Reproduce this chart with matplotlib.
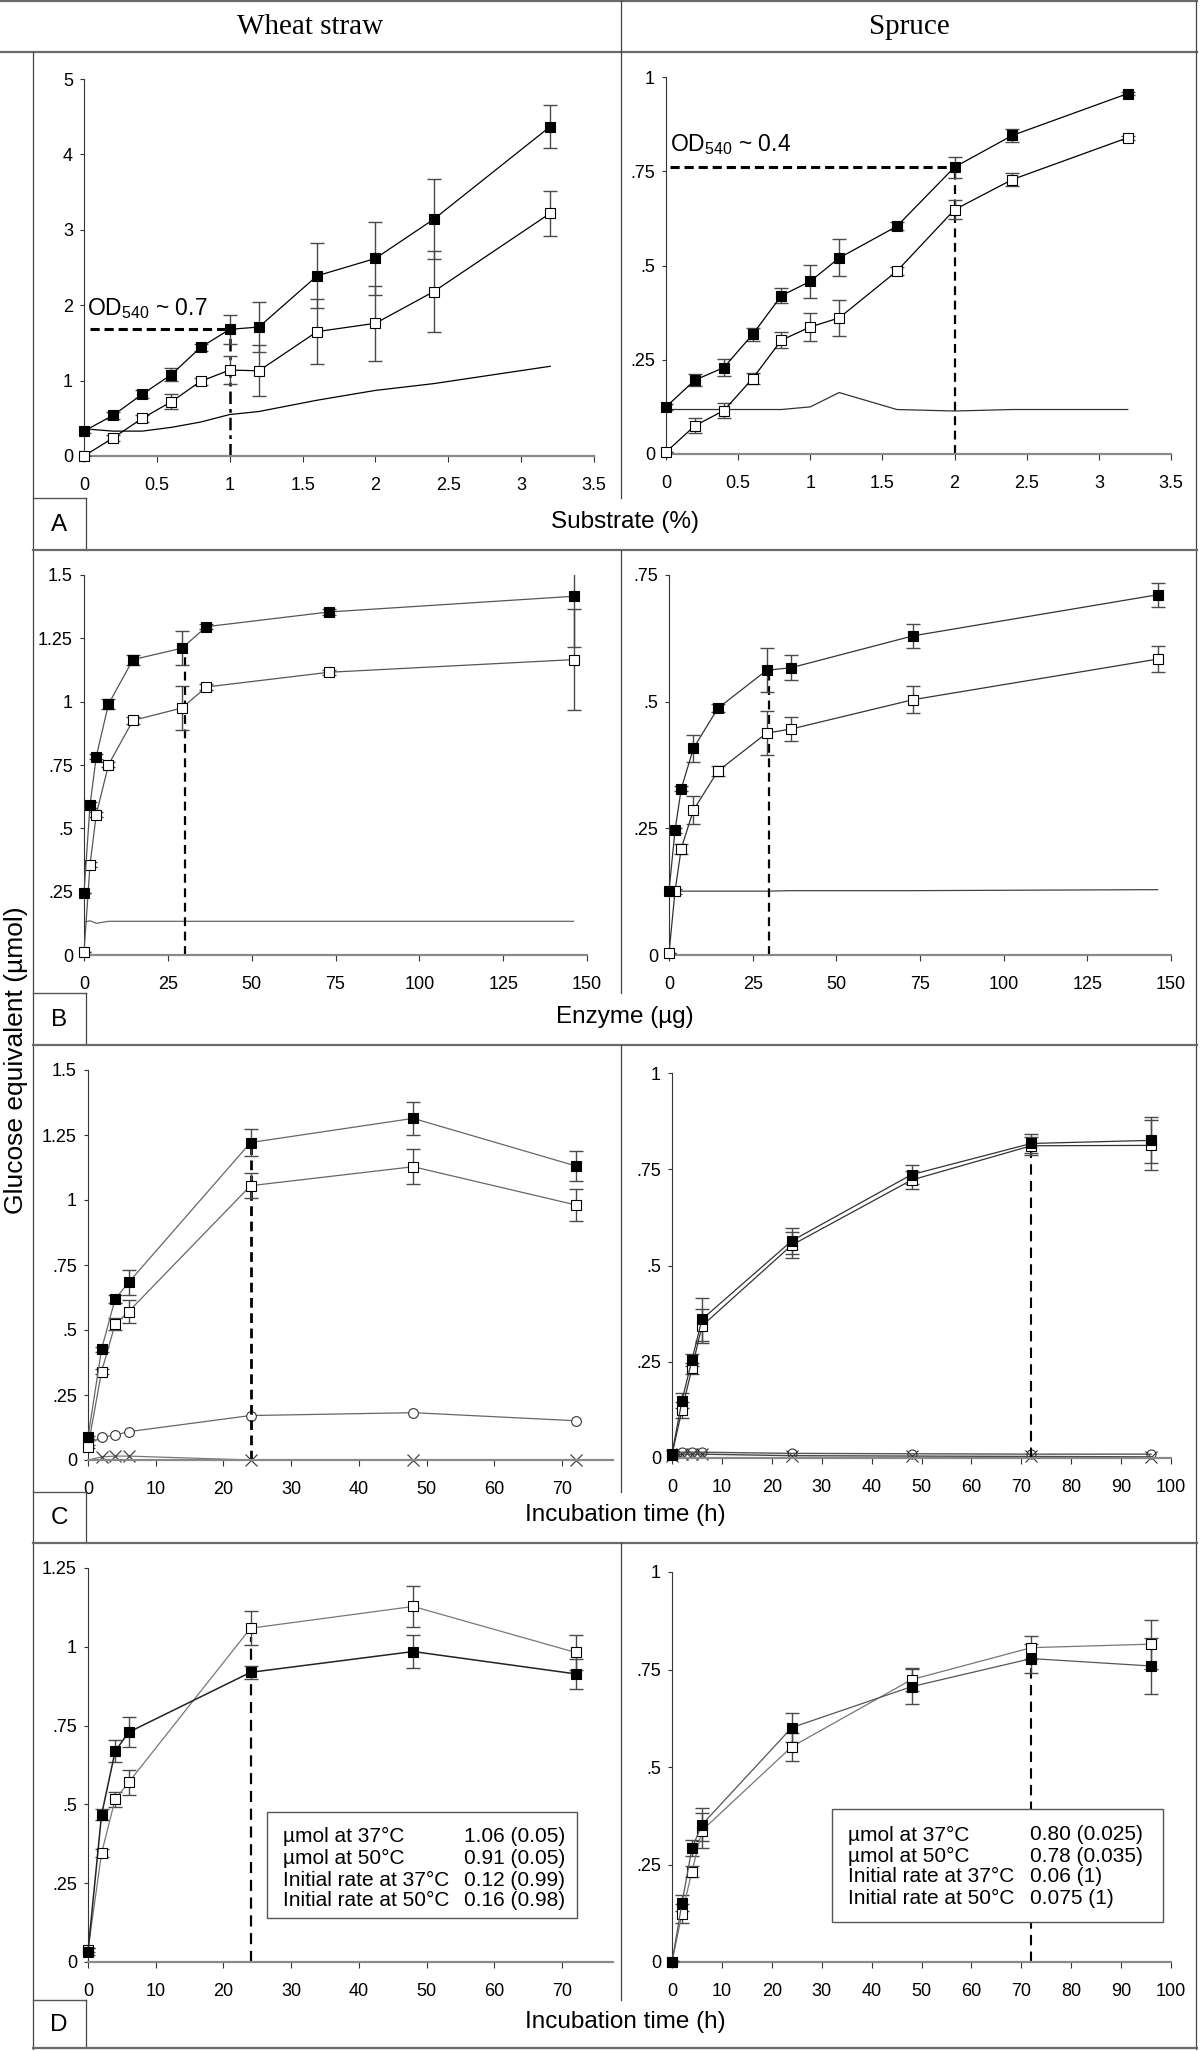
import matplotlib
matplotlib.use("Agg")
import matplotlib.pyplot as plt
from matplotlib.lines import Line2D
from matplotlib.patches import Rectangle

plt.rcParams['font.family'] = ['Liberation Sans', 'DejaVu Sans']
plt.rcParams['mathtext.fontset'] = 'custom'
plt.rcParams['mathtext.rm'] = 'Liberation Sans'
plt.rcParams['mathtext.it'] = 'Liberation Sans:italic'

TABLE_SIZE = 15

# ---------------- data ----------------
# Row A: substrate (%)
A_x = [0, 0.2, 0.4, 0.6, 0.8, 1.0, 1.2, 1.6, 2.0, 2.4, 3.2]
A_wheat_filled = [0.33, 0.54, 0.82, 1.08, 1.44, 1.68, 1.71, 2.39, 2.62, 3.14, 4.37]
A_wheat_filled_err = [0.03, 0.05, 0.05, 0.09, 0.05, 0.19, 0.33, 0.43, 0.49, 0.53, 0.29]
A_wheat_open = [0.0, 0.24, 0.50, 0.72, 0.99, 1.14, 1.13, 1.65, 1.76, 2.18, 3.22]
A_wheat_open_err = [0.0, 0.04, 0.05, 0.10, 0.05, 0.18, 0.34, 0.43, 0.50, 0.54, 0.30]
A_wheat_ctrl = [0.36, 0.33, 0.33, 0.38, 0.45, 0.55, 0.59, 0.74, 0.87, 0.96, 1.19]
A_spruce_filled = [0.125, 0.196, 0.229, 0.317, 0.42, 0.458, 0.52, 0.604, 0.761, 0.845, 0.956]
A_spruce_filled_err = [0.008, 0.015, 0.022, 0.018, 0.02, 0.044, 0.049, 0.011, 0.028, 0.018, 0.005]
A_spruce_open = [0.005, 0.075, 0.115, 0.2, 0.302, 0.337, 0.361, 0.485, 0.648, 0.728, 0.839]
A_spruce_open_err = [0.0, 0.02, 0.02, 0.015, 0.022, 0.038, 0.048, 0.011, 0.025, 0.018, 0.005]
A_spruce_ctrl = [0.118, 0.118, 0.118, 0.118, 0.118, 0.125, 0.163, 0.118, 0.114, 0.118, 0.118]
A_wheat_guide = (1.0, 1.68)
A_spruce_guide = (2.0, 0.76)

# Row B: enzyme (ug)
B_x = [0, 1.8, 3.65, 7.3, 14.6, 29.2, 36.5, 73, 146]
B_wheat_filled = [0.245, 0.592, 0.783, 0.99, 1.166, 1.211, 1.296, 1.354, 1.416]
B_wheat_filled_err = [0.0, 0.01, 0.01, 0.02, 0.02, 0.066, 0.01, 0.01, 0.2]
B_wheat_open = [0.01, 0.357, 0.554, 0.751, 0.926, 0.975, 1.058, 1.116, 1.166]
B_wheat_open_err = [0.0, 0.01, 0.01, 0.01, 0.015, 0.085, 0.01, 0.01, 0.2]
B_wheat_ctrl = [0.13, 0.135, 0.125, 0.133, 0.133, 0.133, 0.133, 0.133, 0.133]
B_spruce_filled = [0.126, 0.246, 0.328, 0.408, 0.487, 0.562, 0.567, 0.63, 0.711]
B_spruce_filled_err = [0.0, 0.005, 0.005, 0.027, 0.008, 0.043, 0.025, 0.024, 0.024]
B_spruce_open = [0.003, 0.126, 0.21, 0.286, 0.363, 0.438, 0.446, 0.504, 0.584]
B_spruce_open_err = [0.0, 0.005, 0.01, 0.027, 0.01, 0.044, 0.024, 0.026, 0.025]
B_spruce_ctrl = [0.126, 0.126, 0.126, 0.126, 0.126, 0.126, 0.127, 0.127, 0.129]
B_wheat_guide = (30, 1.211)
B_spruce_guide = (30, 0.562)

# Row C: incubation time (h)
C_wheat_x = [0, 2, 4, 6, 24, 48, 72]
C_wheat_filled = [0.087, 0.426, 0.619, 0.683, 1.221, 1.314, 1.131]
C_wheat_filled_err = [0.005, 0.01, 0.015, 0.047, 0.051, 0.064, 0.059]
C_wheat_open = [0.051, 0.34, 0.522, 0.571, 1.055, 1.128, 0.981]
C_wheat_open_err = [0.005, 0.01, 0.023, 0.045, 0.047, 0.067, 0.063]
C_wheat_circle = [0.06, 0.087, 0.096, 0.109, 0.171, 0.182, 0.151]
C_wheat_cross = [0.0, 0.012, 0.015, 0.015, 0.0, 0.0, 0.0]
C_spruce_x = [0, 2, 4, 6, 24, 48, 72, 96]
C_spruce_filled = [0.011, 0.149, 0.255, 0.36, 0.564, 0.736, 0.817, 0.825]
C_spruce_filled_err = [0.005, 0.02, 0.015, 0.055, 0.034, 0.024, 0.024, 0.06]
C_spruce_open = [0.009, 0.125, 0.233, 0.343, 0.553, 0.722, 0.811, 0.812]
C_spruce_open_err = [0.005, 0.02, 0.015, 0.045, 0.034, 0.024, 0.024, 0.065]
C_spruce_circle = [0.01, 0.015, 0.015, 0.015, 0.012, 0.011, 0.01, 0.01]
C_spruce_cross = [0.005, 0.01, 0.01, 0.01, 0.006, 0.005, 0.004, 0.003]
C_wheat_guide = (24, 1.221)
C_spruce_guide = (72, 0.811)

# Row D: incubation time (h), 37 vs 50 C
D_wheat_x = [0, 2, 4, 6, 24, 48, 72]
D_wheat_filled = [0.033, 0.467, 0.668, 0.729, 0.919, 0.985, 0.914]
D_wheat_filled_err = [0.01, 0.018, 0.035, 0.047, 0.021, 0.053, 0.048]
D_wheat_open = [0.038, 0.345, 0.516, 0.57, 1.059, 1.128, 0.982]
D_wheat_open_err = [0.005, 0.013, 0.024, 0.039, 0.053, 0.066, 0.056]
D_spruce_x = [0, 2, 4, 6, 24, 48, 72, 96]
D_spruce_filled = [0.0, 0.151, 0.292, 0.352, 0.601, 0.706, 0.778, 0.759]
D_spruce_filled_err = [0.003, 0.02, 0.021, 0.043, 0.038, 0.045, 0.037, 0.073]
D_spruce_open = [0.0, 0.124, 0.232, 0.337, 0.552, 0.724, 0.806, 0.815]
D_spruce_open_err = [0.003, 0.025, 0.015, 0.045, 0.036, 0.03, 0.029, 0.063]
D_wheat_guide = (24, 1.03)
D_spruce_guide = (72, 0.78)

D_table_labels = ["µmol at 37°C", "µmol at 50°C", "Initial rate at 37°C", "Initial rate at 50°C"]
D_wheat_table = ["1.06 (0.05)", "0.91 (0.05)", "0.12 (0.99)", "0.16 (0.98)"]
D_spruce_table = ["0.80 (0.025)", "0.78 (0.035)", "0.06 (1)", "0.075 (1)"]

col_titles = ["Wheat straw", "Spruce"]
row_letters = ["A", "B", "C", "D"]
row_xlabels = ["Substrate (%)", "Enzyme (µg)", "Incubation time (h)", "Incubation time (h)"]
ylabel = "Glucose equivalent (µmol)"

A_xticks = [0, 0.5, 1, 1.5, 2, 2.5, 3, 3.5]
A_xticklabels = ["0", "0.5", "1", "1.5", "2", "2.5", "3", "3.5"]
B_xticks = [0, 25, 50, 75, 100, 125, 150]
time_left_ticks = [0, 10, 20, 30, 40, 50, 60, 70]
time_right_ticks = [0, 10, 20, 30, 40, 50, 60, 70, 80, 90, 100]

# ---------------- figure ----------------
W, H = 1200, 2051
fig = plt.figure(figsize=(W / 100, H / 100), dpi=100)


def fx(px):
    return px / W


def fy(py):
    return 1 - py / H


def make_ax(x0, y_top, x1, y_bot):
    return fig.add_axes([fx(x0), fy(y_bot), (x1 - x0) / W, (y_bot - y_top) / H])


def style(ax, xlim, xticks, xlabels, ylim, yticks, ylabels):
    ax.set_xlim(*xlim)
    ax.set_ylim(*ylim)
    ax.set_xticks(xticks)
    ax.set_xticklabels(xlabels)
    ax.set_yticks(yticks)
    ax.set_yticklabels(ylabels)
    for s in ("top", "right"):
        ax.spines[s].set_visible(False)
    ax.spines["left"].set_color("#333333")
    ax.spines["left"].set_linewidth(0.8)
    ax.spines["bottom"].set_color("#8a8a8a")
    ax.spines["bottom"].set_linewidth(1.6)
    ax.tick_params(axis="y", direction="out", length=3, width=0.8, color="#333333",
                   labelsize=13, pad=5)
    ax.tick_params(axis="x", direction="out", length=4, width=0.8, color="#333333",
                   labelsize=13, pad=11)
    ax.patch.set_alpha(0)


def series(ax, x, y, err, filled, lc="black", lw=0.9):
    ax.errorbar(x, y, yerr=err, fmt="none", ecolor="#4a4a4a", elinewidth=1.0,
                capsize=5, capthick=1.0, zorder=3)
    ax.plot(x, y, "-", color=lc, lw=lw, marker="s", ms=6.5,
            mfc="black" if filled else "white", mec="black", mew=0.8,
            zorder=4, clip_on=False)


def vguide(ax, g, lw=1.6, dashes=(4, 2.5)):
    ax.plot([g[0], g[0]], [0, g[1]], color="black", lw=lw, dashes=dashes, zorder=2)


def hguide(ax, g, x0):
    ax.plot([x0, g[0]], [g[1], g[1]], color="black", lw=2.2, dashes=(3, 1.6), zorder=2)


yl5 = ([0, 1, 2, 3, 4, 5], ["0", "1", "2", "3", "4", "5"])
yl1 = ([0, .25, .5, .75, 1], ["0", ".25", ".5", ".75", "1"])
yl15 = ([0, .25, .5, .75, 1, 1.25, 1.5], ["0", ".25", ".5", ".75", "1", "1.25", "1.5"])
yl075 = ([0, .25, .5, .75], ["0", ".25", ".5", ".75"])
yl125 = ([0, .25, .5, .75, 1, 1.25], ["0", ".25", ".5", ".75", "1", "1.25"])

# ---- Row A ----
ax = make_ax(84, 79, 594, 456)
style(ax, (0, 3.5), A_xticks, A_xticklabels, (0, 5), *yl5)
ax.plot(A_x, A_wheat_ctrl, color="black", lw=0.9, zorder=2)
series(ax, A_x, A_wheat_open, A_wheat_open_err, False)
series(ax, A_x, A_wheat_filled, A_wheat_filled_err, True)
hguide(ax, A_wheat_guide, 0.04)
vguide(ax, A_wheat_guide, lw=1.8, dashes=(5, 2, 1.5, 2))
ax.text(0.02, 1.95, r"OD$_{\mathrm{540}}$ ~ 0.7", fontsize=16.5, va="center", ha="left")

ax = make_ax(666, 77, 1171, 454)
style(ax, (0, 3.5), A_xticks, A_xticklabels, (0, 1), *yl1)
ax.plot(A_x, A_spruce_ctrl, color="#333333", lw=0.9, zorder=2)
series(ax, A_x, A_spruce_open, A_spruce_open_err, False)
series(ax, A_x, A_spruce_filled, A_spruce_filled_err, True)
hguide(ax, A_spruce_guide, 0.03)
vguide(ax, A_spruce_guide)
ax.text(0.03, 0.82, r"OD$_{\mathrm{540}}$ ~ 0.4", fontsize=16.5, va="center", ha="left")

# ---- Row B ----
ax = make_ax(84, 575, 587, 955)
style(ax, (0, 150), B_xticks, [str(v) for v in B_xticks], (0, 1.5), *yl15)
ax.plot(B_x, B_wheat_ctrl, color="#666666", lw=0.9, zorder=2)
series(ax, B_x, B_wheat_open, B_wheat_open_err, False, lc="#555555")
series(ax, B_x, B_wheat_filled, B_wheat_filled_err, True, lc="#555555")
vguide(ax, B_wheat_guide)

ax = make_ax(669, 575, 1171, 955)
style(ax, (0, 150), B_xticks, [str(v) for v in B_xticks], (0, 0.75), *yl075)
ax.plot(B_x, B_spruce_ctrl, color="#444444", lw=0.9, zorder=2)
series(ax, B_x, B_spruce_open, B_spruce_open_err, False, lc="#333333")
series(ax, B_x, B_spruce_filled, B_spruce_filled_err, True, lc="#333333")
vguide(ax, B_spruce_guide)

# ---- Row C ----
ax = make_ax(88, 1070, 613, 1460)
style(ax, (0, 77.5), time_left_ticks, [str(v) for v in time_left_ticks], (0, 1.5), *yl15)
ax.plot(C_wheat_x, C_wheat_cross, color="#777777", lw=0.9, marker="x", ms=8, mec="#444444",
        mew=0.9, markevery=list(range(1, len(C_wheat_x))), zorder=2, clip_on=False)
ax.plot(C_wheat_x, C_wheat_circle, color="#666666", lw=0.9, marker="o", ms=7, mfc="white",
        mec="#333333", mew=0.8, zorder=2)
series(ax, C_wheat_x, C_wheat_open, C_wheat_open_err, False, lc="#666666")
series(ax, C_wheat_x, C_wheat_filled, C_wheat_filled_err, True, lc="#666666")
vguide(ax, C_wheat_guide, lw=2.0, dashes=(3.5, 2))

ax = make_ax(672, 1073, 1171, 1458)
style(ax, (0, 100), time_right_ticks, [str(v) for v in time_right_ticks], (0, 1), *yl1)
ax.plot(C_spruce_x, C_spruce_cross, color="#444444", lw=1.0, marker="x", ms=8, mec="#333333",
        mew=0.8, zorder=2, clip_on=False)
ax.plot(C_spruce_x, C_spruce_circle, color="#555555", lw=1.0, marker="o", ms=6.5, mfc="none",
        mec="#333333", mew=0.8, zorder=2, clip_on=False)
series(ax, C_spruce_x, C_spruce_open, C_spruce_open_err, False, lc="#333333")
series(ax, C_spruce_x, C_spruce_filled, C_spruce_filled_err, True, lc="#333333")
vguide(ax, C_spruce_guide, lw=1.5, dashes=(5, 3))

# ---- Row D ----
ax = make_ax(88, 1568, 613, 1962)
style(ax, (0, 77.5), time_left_ticks, [str(v) for v in time_left_ticks], (0, 1.25), *yl125)
series(ax, D_wheat_x, D_wheat_open, D_wheat_open_err, False, lc="#777777")
series(ax, D_wheat_x, D_wheat_filled, D_wheat_filled_err, True, lc="#222222", lw=1.1)
vguide(ax, D_wheat_guide, lw=1.6, dashes=(5, 3))

ax = make_ax(672, 1572, 1171, 1962)
style(ax, (0, 100), time_right_ticks, [str(v) for v in time_right_ticks], (0, 1), *yl1)
series(ax, D_spruce_x, D_spruce_open, D_spruce_open_err, False, lc="#777777")
series(ax, D_spruce_x, D_spruce_filled, D_spruce_filled_err, True, lc="#555555")
vguide(ax, D_spruce_guide, lw=1.5, dashes=(5, 3))


# ---- tables inside row D ----
def table_box(x0, y0, x1, y1, c1, c2, rows_y, labels, values):
    fig.add_artist(Rectangle((fx(x0), fy(y1)), (x1 - x0) / W, (y1 - y0) / H,
                             transform=fig.transFigure, facecolor="white",
                             edgecolor="#555555", lw=1.0, zorder=10))
    for yy, lab, val in zip(rows_y, labels, values):
        fig.text(fx(c1), fy(yy), lab, fontsize=TABLE_SIZE,
                 va="center", ha="left", zorder=11)
        fig.text(fx(c2), fy(yy), val, fontsize=TABLE_SIZE,
                 va="center", ha="left", zorder=11)


table_box(267, 1812, 577, 1918, 283, 464, [1836, 1858, 1880, 1901], D_table_labels, D_wheat_table)
table_box(832, 1809, 1163, 1922, 848, 1030, [1835, 1856, 1877, 1898], D_table_labels, D_spruce_table)


# ---------------- table grid ----------------
def hline(y, x0, x1, c="#6a6a6a", lw=1.6):
    fig.add_artist(Line2D([fx(x0), fx(x1)], [fy(y), fy(y)], transform=fig.transFigure,
                          color=c, lw=lw, zorder=20))


def vline(x, y0, y1, c="#444444", lw=0.9):
    fig.add_artist(Line2D([fx(x), fx(x)], [fy(y0), fy(y1)], transform=fig.transFigure,
                          color=c, lw=lw, zorder=20))


hline(1, 0, 1197)
hline(52, 0, 1197)
vline(621, 1, 52)
vline(1196, 1, 2049)
vline(33, 52, 2049)

row_tops = [52, 550, 1045, 1543]
box_tops = [498, 993, 1492, 2000]
row_bottoms = [550, 1045, 1543, 2048]
for top, btop, bot, letter, xl in zip(row_tops, box_tops, row_bottoms, row_letters, row_xlabels):
    vline(621, top, btop)
    hline(btop, 33, 86, c="#555555", lw=1.0)
    vline(86, btop, bot)
    hline(bot, 33, 1197)
    fig.text(fx(59), fy((btop + bot) / 2 + 1), letter, fontsize=17.5, ha="center", va="center")
    fig.text(fx(625), fy((btop + bot) / 2 - 2), xl, fontsize=17.5, ha="center", va="center")

fig.text(fx(310), fy(27), col_titles[0], family="Liberation Serif", fontsize=21,
         ha="center", va="center")
fig.text(fx(909), fy(27), col_titles[1], family="Liberation Serif", fontsize=21,
         ha="center", va="center")
fig.text(fx(16), fy(1060), ylabel, fontsize=19, rotation=90, ha="center", va="center")

fig.savefig("out.png", dpi=100)
